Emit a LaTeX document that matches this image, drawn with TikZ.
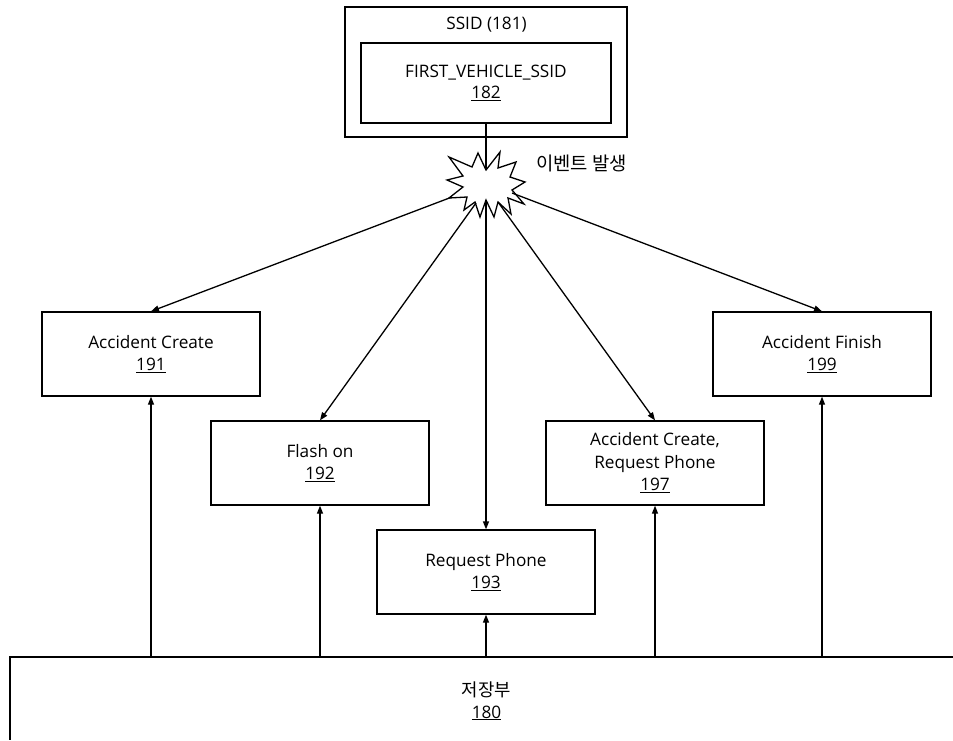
\documentclass[tikz,border=0pt]{standalone}
\usepackage{fontspec}
\setmainfont{Open Sans}
\newfontfamily\kofont{Noto Sans CJK KR}
\usetikzlibrary{arrows.meta}
\begin{document}
\begin{tikzpicture}[x=1pt,y=-1pt,
  txt/.style={font=\fontsize{17.2}{21.5}\selectfont, align=center, inner sep=0pt},
  box/.style={txt, draw, line width=1.3pt, minimum width=218pt, minimum height=84pt},
  wire/.style={line width=1.3pt},
  link/.style={wire, -{Triangle[length=8pt,width=6pt]}}]
\useasboundingbox (0,0) rectangle (953,740);

% SSID container and its entry
\node[draw, line width=1.3pt, minimum width=282pt, minimum height=130pt, inner sep=0pt] (ssidout) at (486,72) {};
\node[txt] (ssidlbl) at (486.5,25) {SSID (181)};
\node[box, minimum width=250pt, minimum height=80pt] (ssidin) at (486,83) {FIRST\_VEHICLE\_SSID\\\underline{182}};

% event burst
\coordinate (bin) at (486,170);
\draw[wire] (ssidin.south) -- (bin);
\draw[wire, fill=white, line join=miter] (bin) -- (500,152) -- (498,168) -- (516,162) -- (510,177)
  -- (525,182) -- (512,190) -- (524,204) -- (508,198) -- (511,214) -- (498,202)
  -- (494,217) -- (486,200) -- (480,217) -- (475,202) -- (464,210) -- (467,197)
  -- (449,198) -- (463,187) -- (447,180) -- (463,176) -- (449,157) -- (472,167)
  -- (478,153) -- cycle;
\node[txt, font=\kofont\fontsize{18.8}{22}\selectfont, anchor=west] (event) at (536,163) {이벤트 발생};
\coordinate (bA) at (452,197);
\coordinate (bB) at (476,203);
\coordinate (bC) at (486,200);
\coordinate (bD) at (498,202);
\coordinate (bE) at (512,193);

% message boxes
\node[box] (m191) at (151,354) {Accident Create\\\underline{191}};
\node[box] (m192) at (320,463) {Flash on\\\underline{192}};
\node[box] (m193) at (486,572) {Request Phone\\\underline{193}};
\node[box, font=\fontsize{17.2}{22.5}\selectfont] (m197) at (655,463) {Accident Create,\\Request Phone\\\underline{197}};
\node[box] (m199) at (822,354) {Accident Finish\\\underline{199}};

% storage unit
\draw[wire] (953,657) -- (10,657) -- (10,740);
\coordinate (stop) at (486,657);
\node[txt] (store) at (486.5,701) {{\kofont\fontsize{17.8}{21}\selectfont 저장부}\\\underline{180}};

% burst to messages
\draw[link] (bA) -- (m191.north);
\draw[link] (bB) -- (m192.north);
\draw[link] (bC) -- (m193.north);
\draw[link] (bD) -- (m197.north);
\draw[link] (bE) -- (m199.north);

% storage to messages
\foreach \m in {m191,m192,m193,m197,m199}
  \draw[link] (\m.south |- stop) -- (\m.south);
\end{tikzpicture}
\end{document}
